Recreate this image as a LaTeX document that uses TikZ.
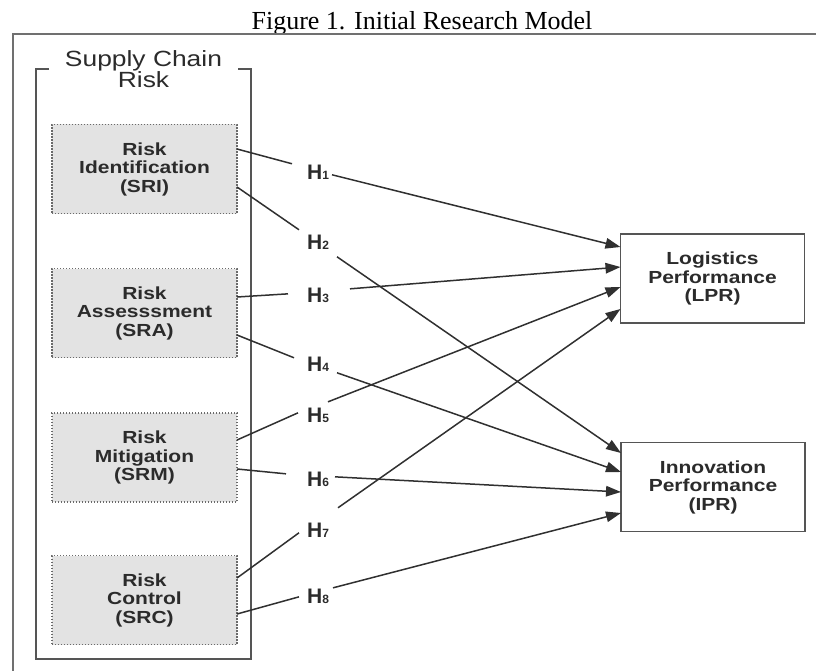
\documentclass[tikz,border=0pt]{standalone}
\usepackage{fontspec}
\newfontfamily\dfont[FakeStretch=1.2]{Liberation Sans}
\newfontfamily\hfont{Liberation Sans}
\newfontfamily\tfont{Liberation Serif}
\usetikzlibrary{arrows.meta,calc}
\definecolor{textc}{HTML}{2B2B2B}
\definecolor{linec}{HTML}{303030}
\definecolor{boxfill}{HTML}{E3E3E3}
\definecolor{boxdot}{HTML}{6A6A6A}
\definecolor{framec}{HTML}{555555}
\definecolor{outerc}{HTML}{707070}
\begin{document}
\begin{tikzpicture}[x=1pt,y=-1pt,
  every node/.style={inner sep=0pt, outer sep=0pt},
  riskbox/.style={draw=boxdot, fill=boxfill, dash pattern=on 1.3pt off 1.7pt, line width=1.2pt,
    minimum width=185pt, minimum height=89pt, align=center,
    font={\dfont\bfseries\fontsize{17.5}{18.5}\selectfont}, text=textc},
  perfbox/.style={draw=framec, line width=1.8pt, fill=white,
    minimum width=184pt, minimum height=89pt, align=center,
    font={\dfont\bfseries\fontsize{17.5}{18.5}\selectfont}, text=textc},
  hlabel/.style={anchor=base, font={\hfont\bfseries\fontsize{21}{22}\selectfont}, text=textc},
  link/.style={draw=linec, line width=1.5pt},
  arrowlink/.style={link, -{Triangle[length=15pt,width=10.5pt]}}
]
\newcommand{\hsub}[1]{{\fontsize{12}{12}\selectfont #1}}
\useasboundingbox (0,0) rectangle (816,671);

% title
\node[anchor=base, font={\tfont\fontsize{26}{28}\selectfont}, text=black] (title) at (422,29.3) {Figure 1. Initial Research Model};

% outer frame
\draw[draw=outerc, line width=2pt] (13,675) -- (13,34) -- (820,34);

% inner group box with title gap
\draw[draw=framec, line width=2pt] (49,69) -- (36,69) -- (36,659) -- (251,659) -- (251,69) -- (238,69);
\node[align=center, font={\dfont\fontsize{22}{20.5}\selectfont}, text=textc] (group) at (143.5,69) {Supply Chain\\Risk};

% risk boxes
\node[riskbox] (SRI) at (144.5,169) {Risk\\Identification\\(SRI)};
\node[riskbox] (SRA) at (144.5,313) {Risk\\Assesssment\\(SRA)};
\node[riskbox] (SRM) at (144.5,457.5) {Risk\\Mitigation\\(SRM)};
\node[riskbox] (SRC) at (144.5,600) {Risk\\Control\\(SRC)};

% performance boxes
\node[perfbox] (LPR) at (712.5,278.5) {Logistics\\Performance\\(LPR)};
\node[perfbox] (IPR) at (713,487) {Innovation\\Performance\\(IPR)};

% hypothesis labels
\node[hlabel] (H1) at (318,179) {H\hsub{1}};
\node[hlabel] (H2) at (318,249) {H\hsub{2}};
\node[hlabel] (H3) at (318,302) {H\hsub{3}};
\node[hlabel] (H4) at (318,371) {H\hsub{4}};
\node[hlabel] (H5) at (318,422) {H\hsub{5}};
\node[hlabel] (H6) at (318,486) {H\hsub{6}};
\node[hlabel] (H7) at (318,537) {H\hsub{7}};
\node[hlabel] (H8) at (318,603) {H\hsub{8}};

% line ends near the labels
\coordinate (h1i) at ($(H1.center)+(-26,-8)$);  \coordinate (h1o) at ($(H1.center)+(14,3)$);
\coordinate (h2i) at ($(H2.center)+(-19,-12)$); \coordinate (h2o) at ($(H2.center)+(19,15)$);
\coordinate (h3i) at ($(H3.center)+(-30,-1)$);  \coordinate (h3o) at ($(H3.center)+(32,-6)$);
\coordinate (h4i) at ($(H4.center)+(-24,-6)$);  \coordinate (h4o) at ($(H4.center)+(19,9)$);
\coordinate (h5i) at ($(H5.center)+(-20,-2)$);  \coordinate (h5o) at ($(H5.center)+(10,-13)$);
\coordinate (h6i) at ($(H6.center)+(-32,-5)$);  \coordinate (h6o) at ($(H6.center)+(17,-2)$);
\coordinate (h7i) at ($(H7.center)+(-19,3)$);   \coordinate (h7o) at ($(H7.center)+(20,-22)$);
\coordinate (h8i) at ($(H8.center)+(-19,1)$);   \coordinate (h8o) at ($(H8.center)+(15,-8)$);

% connectors: source to label
\draw[link] ($(SRI.east)+(0,-20)$) -- (h1i);
\draw[link] ($(SRI.east)+(0,18)$) -- (h2i);
\draw[link] ($(SRA.east)+(0,-16)$) -- (h3i);
\draw[link] ($(SRA.east)+(0,22)$) -- (h4i);
\draw[link] ($(SRM.east)+(0,-17.5)$) -- (h5i);
\draw[link] ($(SRM.east)+(0,11.5)$) -- (h6i);
\draw[link] ($(SRC.east)+(0,-22)$) -- (h7i);
\draw[link] ($(SRC.east)+(0,14)$) -- (h8i);

% connectors: label to outcome
\draw[arrowlink] (h1o) -- ($(LPR.west)+(0,-31.5)$);
\draw[arrowlink] (h3o) -- ($(LPR.west)+(0,-11.5)$);
\draw[arrowlink] (h5o) -- ($(LPR.west)+(0,8.5)$);
\draw[arrowlink] (h7o) -- ($(LPR.west)+(0,30.5)$);
\draw[arrowlink] (h2o) -- ($(IPR.west)+(0,-34)$);
\draw[arrowlink] (h4o) -- ($(IPR.west)+(0,-15)$);
\draw[arrowlink] (h6o) -- ($(IPR.west)+(0,5)$);
\draw[arrowlink] (h8o) -- ($(IPR.west)+(0,26)$);
\end{tikzpicture}
\end{document}
